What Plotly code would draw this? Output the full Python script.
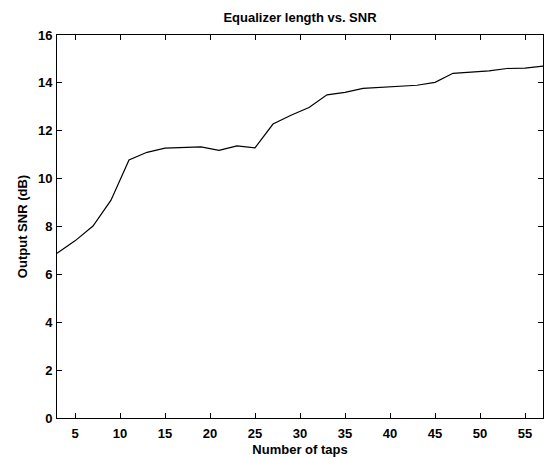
import plotly.graph_objects as go

taps = [3, 5, 7, 9, 11, 13, 15, 17, 19, 21, 23, 25, 27, 29, 31, 33, 35, 37, 39,
        41, 43, 45, 47, 49, 51, 53, 55, 57]
snr_db = [6.88, 7.4, 8.02, 9.1, 10.78, 11.1, 11.27, 11.3, 11.33, 11.18, 11.37,
          11.29, 12.28, 12.65, 12.97, 13.5, 13.6, 13.77, 13.81, 13.84, 13.9,
          14.02, 14.4, 14.45, 14.5, 14.6, 14.62, 14.7]
x_ticks = [5, 10, 15, 20, 25, 30, 35, 40, 45, 50, 55]
y_ticks = [0, 2, 4, 6, 8, 10, 12, 14, 16]

fig = go.Figure()
fig.add_trace(go.Scatter(x=taps, y=snr_db, mode="lines",
                         line=dict(color="black", width=1.2),
                         showlegend=False, hoverinfo="skip"))

font_family = "Liberation Sans, Arial, sans-serif"
tick_font = dict(family=font_family, size=13, color="black", weight="bold")
title_font = dict(family=font_family, size=13, color="black", weight="bold")
axis_common = dict(showline=True, linecolor="black", linewidth=1, mirror="ticks",
                   ticks="inside", ticklen=5, tickcolor="black", tickwidth=1,
                   showgrid=False, zeroline=False, tickfont=tick_font)

fig.update_xaxes(range=[3, 57], tickvals=x_ticks, ticklabelstandoff=3,
                 title=dict(text="Number of taps", standoff=5, font=title_font),
                 **axis_common)
fig.update_yaxes(range=[0, 16], tickvals=y_ticks, ticklabelstandoff=1,
                 title=dict(text="Output SNR (dB)", standoff=7, font=title_font),
                 **axis_common)

fig.update_layout(
    width=544, height=458,
    margin=dict(l=57, r=1, t=35, b=40),
    paper_bgcolor="white", plot_bgcolor="white",
    title=dict(text="Equalizer length vs. SNR", x=300 / 544, xanchor="center",
               y=1 - 17 / 458, yanchor="middle", font=title_font),
)

fig.write_html("out.html")
